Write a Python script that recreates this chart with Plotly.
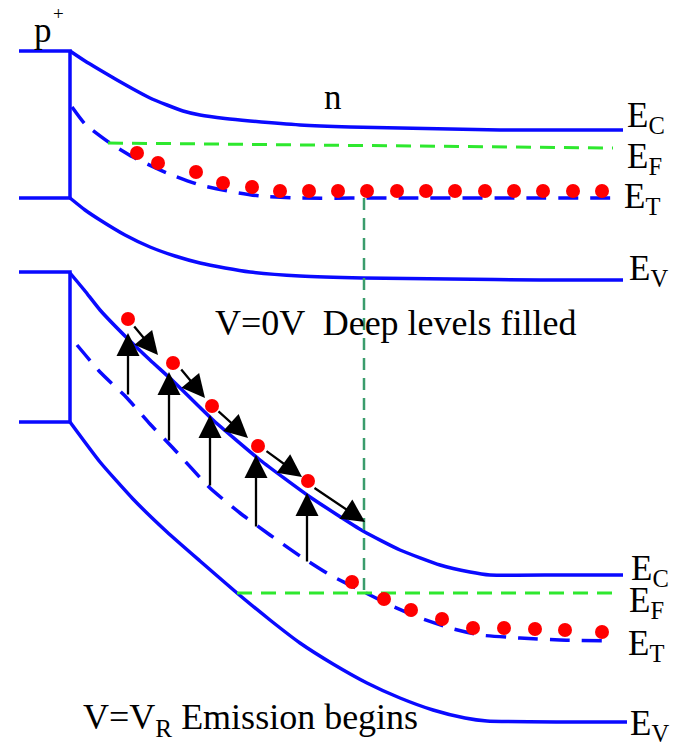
import plotly.graph_objects as go

# ---------------- band-edge curves (screen-like coordinates, y grows downward) ----------------
# Upper panel: V = 0 V
ec0_x = [70, 85, 100, 117, 133, 150, 167, 183, 200, 225, 250, 300, 350, 400, 450, 500, 560, 623]
ec0_y = [51, 61, 70, 80, 89, 98, 105, 111, 115, 118.5, 121, 125, 127, 128, 129, 130, 130, 130]
ev0_x = [70, 85, 100, 125, 150, 175, 200, 225, 250, 300, 363, 450, 540, 623]
ev0_y = [198, 210, 220, 235, 247, 256, 263, 268, 272, 276, 278, 279, 280, 280]
et0_x = [72, 85, 110, 133, 167, 200, 233, 260, 300, 400, 500, 620]
et0_y = [107, 124, 143, 157, 173, 185, 192, 196, 198, 198, 198, 198]
ef0_x = [108, 613]
ef0_y = [143, 148]
trap0_x = [137, 158, 196, 223, 252, 280, 309, 338, 367, 397, 426, 455, 485, 514, 543, 573, 602]
trap0_y = [153, 163, 172, 183, 187, 191, 191, 191, 191, 191, 191, 191, 191, 191, 191, 191, 191]

# Lower panel: V = V_R
ec1_x = [70, 85, 100, 127, 150, 173, 213, 260, 310, 363, 400, 440, 470, 490, 560, 623]
ec1_y = [273, 291, 310, 338, 360, 381, 420, 460, 497, 531, 550, 565, 572, 575, 575, 575]
ev1_x = [70, 100, 133, 167, 200, 237, 270, 300, 333, 367, 400, 433, 465, 487, 560, 627]
ev1_y = [422, 462, 499, 532, 561, 593, 620, 643, 664, 683, 698, 710, 718, 721, 722, 722]
et1_x = [77, 100, 127, 150, 173, 210, 240, 270, 300, 330, 360, 390, 420, 450, 480, 520, 560, 612]
et1_y = [345, 372, 398, 424, 448, 488, 513, 535, 556, 575, 590, 605, 618, 628, 635, 638, 640, 641]
ef1_x = [237, 618]
ef1_y = [593, 593]
emit1_x = [128, 173, 212, 258, 308]
emit1_y = [319, 363, 406, 446, 481]
trap1_x = [352, 384, 411, 442, 473, 504, 535, 565, 602]
trap1_y = [582, 599, 610, 619, 628, 628, 629, 630, 632]

# p+ side edges of both panels
p_x = [19, 70, 70, 19]
p0_y = [51, 51, 198, 198]
p1_y = [272, 272, 422, 422]

# level connecting the two panels
link_x = [364, 364]
link_y = [198, 590]

# emission arrows: upward (trap -> conduction band) and drift along E_C
up_x = [128, 169, 210, 256, 307]
up_from = [396, 442, 487, 528, 563]
up_to = [333, 372, 415, 455, 493]
drift_x0 = [133, 180, 217, 265, 313]
drift_y0 = [325, 368, 410, 450, 487]
drift_x1 = [158, 205, 248, 302, 365]
drift_y1 = [355, 398, 438, 477, 522]

BLUE = "#0a0aff"
GREEN = "#2ee82e"
TEAL = "#3a9c6c"
RED = "#ff0000"
FONT = "Liberation Serif"

fig = go.Figure()


def curve(x, y, color, width=3.5, dash="solid", shape="spline"):
    fig.add_trace(go.Scatter(
        x=x, y=y, mode="lines",
        line=dict(color=color, width=width, dash=dash, shape=shape, smoothing=0.5),
        hoverinfo="skip", showlegend=False))


def dots(x, y):
    fig.add_trace(go.Scatter(
        x=x, y=y, mode="markers",
        marker=dict(color=RED, size=14, line=dict(width=0)),
        hoverinfo="skip", showlegend=False))


curve(p_x, p0_y, BLUE, shape="linear")
curve(p_x, p1_y, BLUE, shape="linear")
curve(ec0_x, ec0_y, BLUE)
curve(ev0_x, ev0_y, BLUE)
curve(et0_x, et0_y, BLUE, dash="20px,12px")
curve(ef0_x, ef0_y, GREEN, width=3, dash="15px,9px", shape="linear")
curve(ec1_x, ec1_y, BLUE)
curve(ev1_x, ev1_y, BLUE)
curve(et1_x, et1_y, BLUE, dash="20px,12px")
curve(ef1_x, ef1_y, GREEN, width=3, dash="15px,9px", shape="linear")
curve(link_x, link_y, TEAL, width=2.5, dash="12px,8px", shape="linear")
dots(trap0_x, trap0_y)
dots(trap1_x, trap1_y)
dots(emit1_x, emit1_y)

annotations = []
arrow_style = dict(xref="x", yref="y", axref="x", ayref="y", showarrow=True,
                   arrowhead=2, arrowsize=2.0, arrowwidth=2.3, arrowcolor="black", text="")
for x, y0, y1 in zip(up_x, up_from, up_to):
    annotations.append(dict(x=x, y=y1, ax=x, ay=y0, **arrow_style))
for x0, y0, x1, y1 in zip(drift_x0, drift_y0, drift_x1, drift_y1):
    annotations.append(dict(x=x1, y=y1, ax=x0, ay=y0, **arrow_style))


def label(text, x, y, size=35, xanchor="left"):
    annotations.append(dict(x=x, y=y, xref="x", yref="y", text=text, showarrow=False,
                            xanchor=xanchor, yanchor="middle",
                            font=dict(family=FONT, size=size, color="black")))


label("E<sub>C</sub>", 625, 117)
label("E<sub>F</sub>", 625, 158)
label("E<sub>T</sub>", 622, 198)
label("E<sub>V</sub>", 627, 270)
label("E<sub>C</sub>", 629, 570)
label("E<sub>F</sub>", 627, 602)
label("E<sub>T</sub>", 626, 645)
label("E<sub>V</sub>", 628, 725)
label("p", 43, 30, xanchor="center")
label("+", 58, 13, size=19, xanchor="center")
label("n", 333, 97, xanchor="center")
label("V=0V  Deep levels filled", 396, 323, size=36, xanchor="center")
label("V=V<sub>R</sub> Emission begins", 81, 719, size=36)

fig.update_layout(
    width=687, height=743, autosize=False,
    margin=dict(l=0, r=0, t=0, b=0),
    paper_bgcolor="white", plot_bgcolor="white",
    xaxis=dict(range=[0, 687], visible=False, fixedrange=True),
    yaxis=dict(range=[743, 0], visible=False, fixedrange=True),
    annotations=annotations,
)

fig.write_html("out.html")
